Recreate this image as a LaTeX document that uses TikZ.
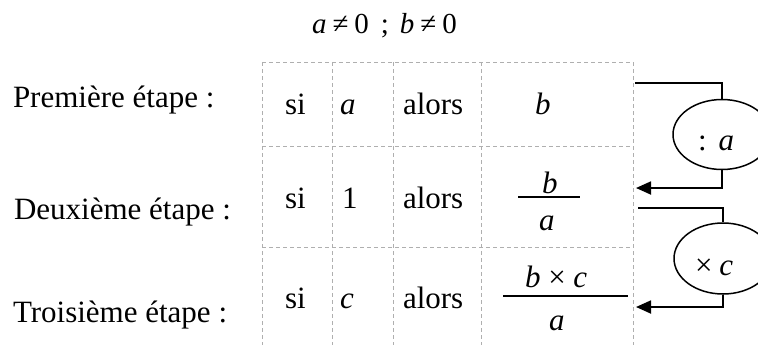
\documentclass[tikz,border=0pt]{standalone}
\usepackage{fontspec}
\setmainfont{Liberation Serif}
\usetikzlibrary{shapes.geometric,arrows.meta}
\definecolor{gridgray}{RGB}{175,175,175}
\tikzset{
  txt/.style={anchor=base west,inner sep=0pt,outer sep=0pt,font=\fontsize{31bp}{36bp}\selectfont},
  ttl/.style={anchor=base west,inner sep=0pt,outer sep=0pt,font=\fontsize{29bp}{34bp}\selectfont},
  gridline/.style={draw=gridgray,line width=0.8bp,dash pattern=on 4bp off 3bp},
  fracline/.style={line width=1.8bp},
  conn/.style={line width=1.8bp},
  arr/.style={line width=1.8bp,-{Triangle[length=15bp,width=13bp]}},
  oval/.style={ellipse,draw,line width=1.5bp,minimum width=98bp,minimum height=70bp,inner sep=0pt}
}
\begin{document}
\begin{tikzpicture}[x=1bp,y=-1bp]
\useasboundingbox (0,0) rectangle (758,345);
% title
\node[ttl] (title) at (312,33) {\textit{a}\hspace{6bp}≠\hspace{6bp}0\hspace{12bp};\hspace{11bp}\textit{b}\hspace{6bp}≠\hspace{6bp}0};
% grid
\draw[gridline] (262,62) -- (633,62);
\draw[gridline] (262,146) -- (633,146);
\draw[gridline] (262,247) -- (633,247);
\foreach \x in {262,332,393,481,633} \draw[gridline] (\x,62) -- (\x,345);
% left labels
\node[txt] (l1) at (13,107) {Première étape :};
\node[txt] (l2) at (14,219) {Deuxième étape :};
\node[txt] (l3) at (13,322) {Troisième étape :};
% row 1
\node[txt] (si1) at (285,114) {si};
\node[txt] (v1) at (340,114) {\textit{a}};
\node[txt] (al1) at (403,114) {alors};
\node[txt] (r1) at (535,114) {\textit{b}};
% row 2
\node[txt] (si2) at (285,208) {si};
\node[txt] (v2) at (342,208) {1};
\node[txt] (al2) at (403,208) {alors};
\node[txt] (n2) at (542,193) {\textit{b}};
\node[txt] (d2) at (539,230) {\textit{a}};
\draw[fracline] (518,197) -- (580,197);
% row 3
\node[txt] (si3) at (285,308) {si};
\node[txt] (v3) at (340,308) {\textit{c}};
\node[txt] (al3) at (403,308) {alors};
\node[txt] (n3) at (525,287) {\textit{b} × \textit{c}};
\node[txt] (d3) at (549,330) {\textit{a}};
\draw[fracline] (503,296) -- (628,296);
% operators
\node[oval] (e1) at (722,134.5) {};
\node[txt] (o1) at (698,150) {:\hspace{12bp}\textit{a}};
\node[oval,minimum height=71bp] (e2) at (723,258.5) {};
\node[txt] (o2) at (695,275) {×\hspace{7bp}\textit{c}};
% connectors
\coordinate (s1) at (635,83);
\coordinate (t1) at (636,188);
\coordinate (s2) at (638,208);
\coordinate (t2) at (636,307);
\draw[conn] (s1) -| (e1.north);
\draw[arr] (e1.south) |- (t1);
\draw[conn] (s2) -| (e2.north);
\draw[arr] (e2.south) |- (t2);
\end{tikzpicture}
\end{document}
